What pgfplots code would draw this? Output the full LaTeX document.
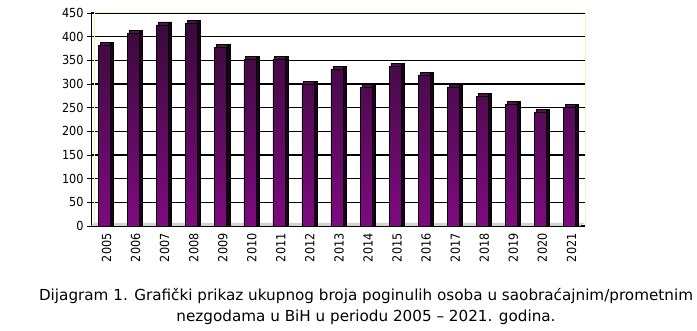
\documentclass[border=0pt]{standalone}
\usepackage{pgfplots}
\pgfplotsset{compat=1.18}
\usepackage{fontspec}
\setmainfont{DejaVu Sans Condensed}
\newfontfamily\capfont{DejaVu Sans}
\definecolor{bartop}{HTML}{3A0A3A}
\definecolor{barbot}{HTML}{7E0A80}
\definecolor{barside}{HTML}{1E001E}
\definecolor{barcap}{HTML}{4E124E}
\definecolor{frameY}{HTML}{F2F2C0}
\pgfplotstableread{
x y cap
0 382 388
1 408 414
2 425 431
3 429 435
4 378 384
5 352 358
6 353 359
7 300 306
8 331 337
9 293 299
10 338 344
11 318 324
12 294 300
13 274 280
14 258 264
15 241 247
16 251 257
}\data
\begin{document}
\begin{tikzpicture}
\useasboundingbox (-91pt,-105pt) rectangle (606pt,226pt);
\begin{axis}[
  at={(0pt,0pt)}, anchor=south west,
  scale only axis, width=494pt, height=213pt,
  xmin=-0.5, xmax=16.5, ymin=0, ymax=450,
  ytick={0,50,...,450},
  xtick={0,...,16},
  xticklabels={2005,2006,2007,2008,2009,2010,2011,2012,2013,2014,2015,2016,2017,2018,2019,2020,2021},
  x tick label style={rotate=90, anchor=east, font=\fontsize{12.5}{14}\selectfont, yshift=-1pt},
  y tick label style={font=\fontsize{12.5}{14}\selectfont},
  /pgf/number format/assume math mode=true,
  major x tick style={draw=none},
  extra x ticks={-0.5,0.5,...,16.5},
  extra x tick labels={},
  extra x tick style={major tick length=5pt, tick align=outside, tick style={black, line width=0.8pt}},
  tick align=outside, major tick length=4pt,
  ytick style={black, line width=0.8pt},
  axis x line*=bottom, axis y line*=left,
  axis line style={black, line width=0.9pt},
  ymajorgrids, grid style={black, line width=1.1pt},
  clip=false,
]
\draw[frameY, line width=1pt] (rel axis cs:0.008,0) -- (rel axis cs:0.008,1) -- (rel axis cs:1,1) -- (rel axis cs:1,0);
\fill[gray!35] (rel axis cs:0,0) -- (rel axis cs:0.008,0.015) -- (rel axis cs:1,0.015) -- (rel axis cs:0.99,0) -- cycle;
\addplot[ybar, bar width=12pt, bar shift=0.8pt, fill=barcap, draw=black, line width=0.5pt] table[x=x, y=cap] {\data};
\addplot[ybar, bar width=3pt, bar shift=6.5pt, fill=barside, draw=black, line width=0.5pt] table[x=x, y=cap] {\data};
\addplot[ybar, bar width=12pt, bar shift=-1pt, top color=bartop, bottom color=barbot, draw=black, line width=0.6pt] table[x=x, y=y] {\data};
\end{axis}
\node[align=center, font=\capfont\fontsize{15.2}{21}\selectfont, anchor=center] at (275pt,-81pt)
 {Dijagram 1. Grafički prikaz ukupnog broja poginulih osoba u saobraćajnim/prometnim\\ nezgodama u BiH u periodu 2005 – 2021. godina.};
\end{tikzpicture}
\end{document}
